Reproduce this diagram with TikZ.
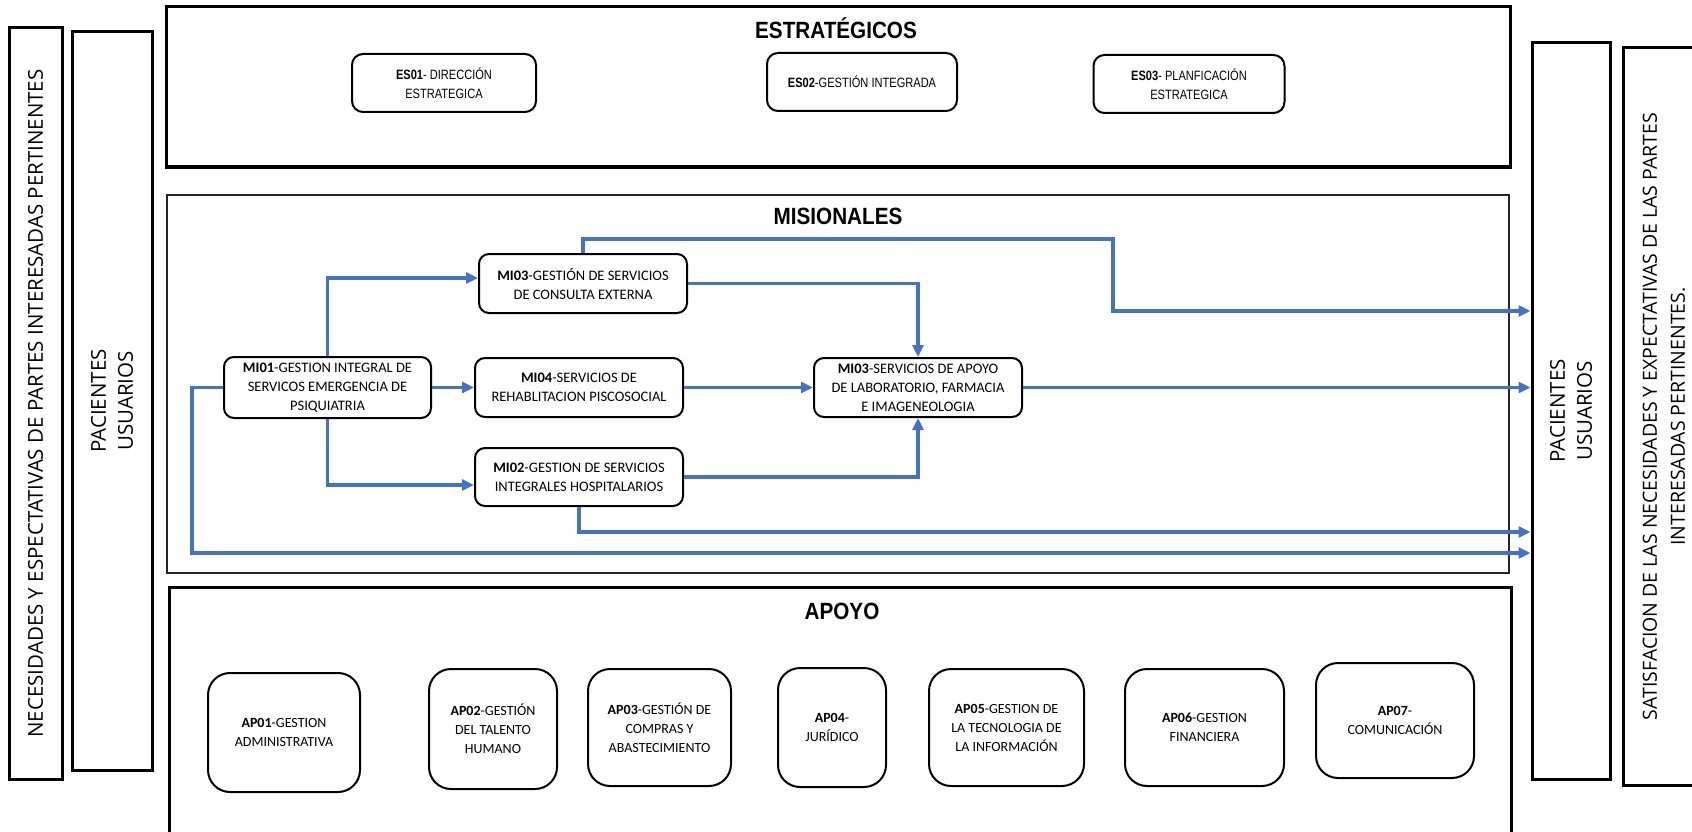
\documentclass[tikz,border=0pt]{standalone}
\usepackage{fontspec}
\setmainfont{Carlito}
\newfontfamily\sidefont{Open Sans}
\newfontfamily\headfont[FakeStretch=0.88]{Liberation Sans}
\newfontfamily\narrowfont[FakeStretch=0.82]{Liberation Sans}
\usetikzlibrary{arrows.meta}
\definecolor{flowblue}{HTML}{4472C4}

\begin{document}
\begin{tikzpicture}[x=1pt,y=-1pt,
  frame/.style={draw=black, line width=3pt, inner sep=0pt},
  sidebox/.style={draw=black, line width=3pt, inner sep=0pt},
  sidetext/.style={rotate=90, align=center, inner sep=0pt,
    font=\sidefont\fontsize{20.5pt}{27pt}\selectfont},
  head/.style={anchor=base, inner sep=0pt,
    font=\headfont\bfseries\fontsize{23.5pt}{26pt}\selectfont},
  proc/.style={draw=black, line width=2pt, rounded corners=10pt,
    align=center, inner sep=0pt, fill=white,
    font=\fontsize{14.5pt}{19pt}\selectfont},
  esbox/.style={proc, rounded corners=11pt,
    font=\narrowfont\fontsize{13.5pt}{19pt}\selectfont},
  apbox/.style={proc, rounded corners=22pt,
    font=\fontsize{14pt}{19pt}\selectfont},
  flow/.style={draw=flowblue, line width=3.2pt,
    -{Triangle[length=12pt,width=11pt]}}
]
\useasboundingbox (0,0) rectangle (1692,832);
\clip (0,0) rectangle (1692,832);

% side columns
\node[sidebox, minimum width=53, minimum height=751] (nec) at (35.5,403.5) {};
\node[sidetext] (necT) at (nec.center)
  {NECESIDADES Y ESPECTATIVAS DE PARTES INTERESADAS PERTINENTES};
\node[sidebox, minimum width=80, minimum height=738] (pacL) at (112,401) {};
\node[sidetext] (pacLT) at (pacL.center) {PACIENTES\\USUARIOS};
\node[sidebox, minimum width=78, minimum height=736] (pacR) at (1571,411) {};
\node[sidetext] (pacRT) at (pacR.center) {PACIENTES\\USUARIOS};
\node[sidebox, minimum width=82, minimum height=737] (sat) at (1664,416.5) {};
\node[sidetext, font=\sidefont\fontsize{19.5pt}{28pt}\selectfont] (satT) at (sat.center)
  {SATISFACION DE LAS NECESIDADES Y EXPECTATIVAS DE LAS PARTES\\INTERESADAS PERTINENTES.};

% process groups
\node[frame, minimum width=1344, minimum height=160] (est) at (838,87) {};
\node[frame, draw=black!85, line width=2pt, minimum width=1342, minimum height=378] (mis) at (838,384) {};
\node[frame, minimum width=1342, minimum height=263] (apo) at (840,718.5) {};

\node[head] (estT) at (836,39) {ESTRATÉGICOS};
\node[head] (misT) at (838,224) {MISIONALES};
\node[head] (apoT) at (842,619) {APOYO};

% strategic processes
\node[esbox, minimum width=184, minimum height=58] (es01) at (444,83)
  {\textbf{ES01}- DIRECCIÓN\\ESTRATEGICA};
\node[esbox, minimum width=190, minimum height=58] (es02) at (862,82)
  {\textbf{ES02}-GESTIÓN INTEGRADA};
\node[esbox, minimum width=191, minimum height=58] (es03) at (1189,84)
  {\textbf{ES03}- PLANFICACIÓN\\ESTRATEGICA};

% mission processes
\node[proc, minimum width=207, minimum height=61] (mi01) at (327.5,387.5)
  {\textbf{MI01}-GESTION INTEGRAL DE\\SERVICOS EMERGENCIA DE\\PSIQUIATRIA};
\node[proc, minimum width=208, minimum height=59] (mi03) at (583,283.5)
  {\textbf{MI03}-GESTIÓN DE SERVICIOS\\DE CONSULTA EXTERNA};
\node[proc, minimum width=208, minimum height=59] (mi04) at (579,387.5)
  {\textbf{MI04}-SERVICIOS DE\\REHABLITACION PISCOSOCIAL};
\node[proc, minimum width=208, minimum height=58] (mi02) at (579,477)
  {\textbf{MI02}-GESTION DE SERVICIOS\\INTEGRALES HOSPITALARIOS};
\node[proc, minimum width=208, minimum height=59] (mi05) at (918,387.5)
  {\textbf{MI03}-SERVICIOS DE APOYO\\DE LABORATORIO, FARMACIA\\E IMAGENEOLOGIA};

% lanes used by the connectors
\coordinate (lnTop) at (0,239);
\coordinate (lnOut) at (0,311);
\coordinate (lnM2) at (0,532);
\coordinate (lnFb) at (0,553);
\coordinate (xBend) at (1113,0);
\coordinate (xFb) at (192,0);

\draw[flow] (mi01.north) |- ([yshift=5.5pt]mi03.west);
\draw[flow] (mi01.east) -- (mi04.west);
\draw[flow] (mi01.south) |- ([yshift=-8pt]mi02.west);
\draw[flow] (mi01.west) -| (xFb |- lnFb) -- (pacR.west |- lnFb);
\draw[flow] (mi02.south) |- (pacR.west |- lnM2);
\draw[flow] (mi03.north) |- (xBend |- lnTop) |- (pacR.west |- lnOut);
\draw[flow] (mi03.east) -| (mi05.north);
\draw[flow] (mi04.east) -- (mi05.west);
\draw[flow] (mi02.east) -| (mi05.south);
\draw[flow] (mi05.east) -- (pacR.west |- mi05.east);

% support processes
\node[apbox, minimum width=152, minimum height=119] (ap01) at (284,732.5)
  {\textbf{AP01}-GESTION\\ADMINISTRATIVA};
\node[apbox, minimum width=128, minimum height=120] (ap02) at (493,729)
  {\textbf{AP02}-GESTIÓN\\DEL TALENTO\\HUMANO};
\node[apbox, minimum width=143, minimum height=117] (ap03) at (659.5,727.5)
  {\textbf{AP03}-GESTIÓN DE\\COMPRAS Y\\ABASTECIMIENTO};
\node[apbox, minimum width=108, minimum height=119] (ap04) at (832,727.5)
  {\textbf{AP04}-\\JURÍDICO};
\node[apbox, minimum width=155, minimum height=117] (ap05) at (1006.5,727.5)
  {\textbf{AP05}-GESTION DE\\LA TECNOLOGIA DE\\LA INFORMACIÓN};
\node[apbox, minimum width=159, minimum height=117] (ap06) at (1204.5,727.5)
  {\textbf{AP06}-GESTION\\FINANCIERA};
\node[apbox, minimum width=158, minimum height=115] (ap07) at (1395,720.5)
  {\textbf{AP07}-\\COMUNICACIÓN};
\end{tikzpicture}
\end{document}
